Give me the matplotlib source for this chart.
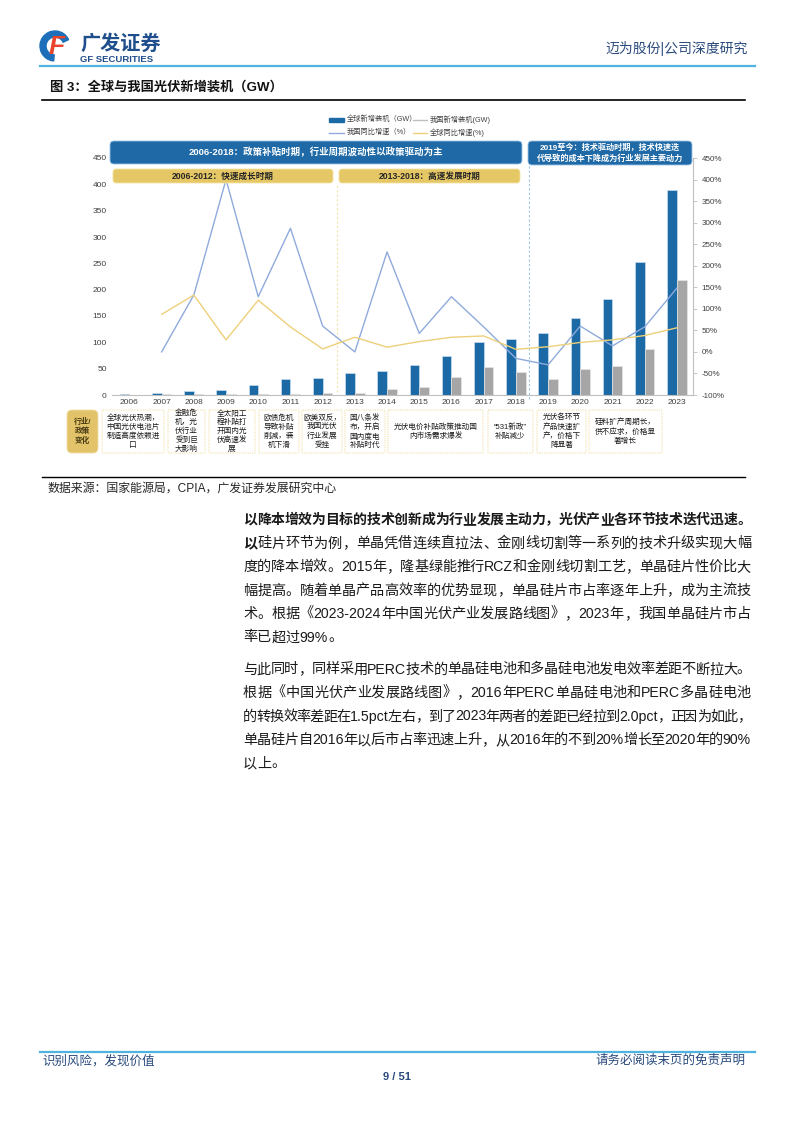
import re
import matplotlib
matplotlib.use('Agg')
import matplotlib.pyplot as plt
import numpy as np
from matplotlib.patches import FancyBboxPatch, Rectangle, Wedge
from matplotlib.ticker import FuncFormatter

plt.rcParams['font.family'] = ['Liberation Sans', 'Noto Sans CJK SC', 'DejaVu Sans']
plt.rcParams['axes.unicode_minus'] = False

# 数据
years = [str(y) for y in range(2006, 2024)]
global_gw = [2, 3, 7, 9, 19, 30, 32, 42, 46, 57, 75, 101, 107, 118, 146, 183, 252, 390]
china_gw = [0, 1, 1, 1, 1, 2.5, 3.5, 4.5, 11, 16, 35, 54, 44, 30, 49, 55, 87, 218]
china_yoy = [np.nan, 0, 132, 400, 128, 287, 60, 0, 232, 43, 128, 58, -15, -30, 60, 14, 58, 148]
global_yoy = [np.nan, 87, 132, 28, 120, 58, 7, 34, 11, 24, 34, 37, 6, 12, 22, 28, 38, 56]

events = [
    '全球光伏热潮，\n中国光伏电池片\n制造高度依赖进\n口',
    '金融危\n机，光\n伏行业\n受到巨\n大影响',
    '全太阳工\n程补贴打\n开国内光\n伏高速发\n展',
    '欧债危机\n导致补贴\n削减，装\n机下滑',
    '欧美双反，\n我国光伏\n行业发展\n受挫',
    '国八条发\n布，开启\n国内度电\n补贴时代',
    '光伏电价补贴政策推动国\n内市场需求爆发',
    '“531新政”\n补贴减少',
    '光伏各环节\n产品快速扩\n产，价格下\n降显著',
    '硅料扩产周期长，\n供不应求，价格显\n著增长',
]
event_x = [(102, 164), (168, 205), (209, 255), (259, 299), (302, 342),
           (345, 385), (388, 483), (488, 533), (537, 586), (589, 662)]

BLUE = '#1B6AA5'
GRAY = '#A6A6A6'
LBLUE = '#8FAADC'
YEL = '#EDD07A'
NAVY = '#2A4A7C'

W, H = 794, 1123
fig = plt.figure(figsize=(W / 100, H / 100), dpi=100)


def px(x0, y0, w, h):
    return [x0 / W, 1 - (y0 + h) / H, w / W, h / H]


# ---------------- 主图
ax = fig.add_axes(px(111.7, 158, 581.3, 237))
x = np.arange(len(years))
ax.bar(x - 0.15, global_gw, 0.3, color=BLUE, edgecolor='#C9DDF0', linewidth=0.5, zorder=2)
ax.bar(x + 0.15, china_gw, 0.3, color=GRAY, edgecolor='#E6E6E6', linewidth=0.5, zorder=2)
ax.set_xlim(-0.55, 17.5)
ax.set_ylim(0, 450)
ax.set_yticks(range(0, 451, 50))
ax.set_xticks(x)
ax.set_xticklabels(years)
ax.tick_params(axis='both', length=0, labelsize=6, colors='#404040')
ax.tick_params(axis='x', pad=3.2)
ax.tick_params(axis='y', pad=3.6)
for s in ['top', 'left', 'right']:
    ax.spines[s].set_visible(False)
ax.spines['bottom'].set_color('#BFBFBF')
ax.spines['bottom'].set_linewidth(0.8)

ax2 = ax.twinx()
ax2.plot(x, china_yoy, color=LBLUE, lw=1)
ax2.plot(x, global_yoy, color=YEL, lw=1)
ax2.set_ylim(-100, 450)
ax2.set_yticks(range(-100, 451, 50))
ax2.yaxis.set_major_formatter(FuncFormatter(lambda v, p: f'{v:.0f}%'))
ax2.tick_params(axis='y', length=3, width=0.6, color='#BFBFBF', labelsize=5.8,
                labelcolor='#404040', pad=3)
for s in ['top', 'left', 'bottom']:
    ax2.spines[s].set_visible(False)
ax2.spines['right'].set_color('#BFBFBF')
ax2.spines['right'].set_linewidth(0.8)

# 分期虚线
ax.axvline(6.45, ymin=3 / 237, ymax=(395 - 183) / 237, color='#F6E2A8', lw=0.8,
           ls=(0, (2, 2)), zorder=1)
ax.axvline(12.4, ymin=-4 / 237, ymax=(395 - 165) / 237, color='#9DC3E6', lw=0.8,
           ls=(0, (2, 2)), zorder=1, clip_on=False)

# ---------------- 覆盖层（像素坐标）
ov = fig.add_axes([0, 0, 1, 1])
ov.set_xlim(0, W)
ov.set_ylim(H, 0)
ov.axis('off')
ov.patch.set_visible(False)


def rbox(x0, y0, x1, y1, fc, ec, r=4, lw=0.6, ls='-'):
    ov.add_patch(FancyBboxPatch((x0, y0), x1 - x0, y1 - y0,
                                boxstyle=f'round,pad=0,rounding_size={r}',
                                fc=fc, ec=ec, lw=lw, ls=ls))


# 页眉
ov.add_patch(Wedge((55, 46), 15, 95, 335, width=6, color='#1C6FB8'))
ov.text(57, 47, 'F', fontsize=19, fontweight='bold', style='italic', color='#E8452C',
        ha='center', va='center')
ov.text(80, 44, '广发证券', fontsize=14.5, fontweight='bold', color='#1F4E8C',
        ha='left', va='center')
ov.text(80, 59, 'GF SECURITIES', fontsize=6.8, fontweight='bold', color='#1F4E8C',
        ha='left', va='center')
ov.text(748, 48, '迈为股份|公司深度研究', fontsize=10, color=NAVY, ha='right', va='center')
ov.plot([40, 755], [66, 66], color='#4FB3E0', lw=1.6)

ov.text(50, 87, '图 3：全球与我国光伏新增装机（GW）', fontsize=9.5, fontweight='bold',
        color='#111111', ha='left', va='center')
ov.plot([42, 745], [100, 100], color='black', lw=1.2)

# 图例
ov.add_patch(Rectangle((329, 117.5), 15, 4, color=BLUE))
ov.text(347, 119.5, '全球新增装机（GW）', fontsize=5.2, color='#404040', va='center')
ov.plot([413, 427], [119.5, 119.5], color='#BFBFBF', lw=1)
ov.text(430, 119.5, '我国新增装机(GW)', fontsize=5.2, color='#404040', va='center')
ov.plot([329, 344], [132.5, 132.5], color=LBLUE, lw=1)
ov.text(347, 132.5, '我国同比增速（%）', fontsize=5.2, color='#404040', va='center')
ov.plot([413, 427], [132.5, 132.5], color=YEL, lw=1)
ov.text(430, 132.5, '全球同比增速(%)', fontsize=5.2, color='#404040', va='center')

# 阶段横幅
rbox(110, 141, 522, 164, '#1F6AA6', '#9DC3E6')
ov.text(316, 152.5, '2006-2018：政策补贴时期，行业周期波动性以政策驱动为主', fontsize=6.8,
        fontweight='bold', color='white', ha='center', va='center')
rbox(528, 141, 692, 165, '#1F6AA6', '#9DC3E6')
ov.text(610, 147.5, '2019至今：技术驱动时期，技术快速迭', fontsize=5.9,
        fontweight='bold', color='white', ha='center', va='center')
ov.text(610, 158.5, '代导致的成本下降成为行业发展主要动力', fontsize=5.9,
        fontweight='bold', color='white', ha='center', va='center')
rbox(113, 169, 333, 183, '#E5C766', '#F5E3A8', r=3)
ov.text(223, 176, '2006-2012：快速成长时期', fontsize=6.2, fontweight='bold',
        color='#262626', ha='center', va='center')
rbox(339, 169, 520, 183, '#E5C766', '#F5E3A8', r=3)
ov.text(429.5, 176, '2013-2018：高速发展时期', fontsize=6.2, fontweight='bold',
        color='#262626', ha='center', va='center')

# 行业/政策变化
rbox(67, 410, 98, 453, '#E2C36A', '#F0DFA5', r=5)
ov.text(82.5, 431.5, '行业/\n政策\n变化', fontsize=5.5, fontweight='bold', color='#4A3C14',
        ha='center', va='center', linespacing=1.3)
for (x0, x1), txt in zip(event_x, events):
    rbox(x0, 410, x1, 453, 'white', '#F2DFA7', r=1, lw=0.8, ls=(0, (1, 1)))
    ov.text((x0 + x1) / 2, 431.5, txt, fontsize=5.5, color='#1A1A1A', ha='center',
            va='center', linespacing=1.3, multialignment='center')

# 数据来源
ov.plot([42, 745], [476.5, 476.5], color='black', lw=1)
ov.text(48, 488.5, '数据来源：国家能源局，CPIA，广发证券发展研究中心', fontsize=8.6,
        color='#262626', ha='left', va='center')

# 正文（两端对齐）
renderer = fig.canvas.get_renderer()


def justify(y, s, size, weight='normal', full=True, nbold=0, x0=243, x1=751):
    toks = re.findall(r'[A-Za-z0-9.%\-]+|.', s)
    ts, ws = [], []
    em = size / 72 * 100
    for i, t in enumerate(toks):
        w = 'bold' if (weight == 'bold' or i < nbold) else 'normal'
        tx = ov.text(x0, y, t, fontsize=size, fontweight=w, va='center', ha='left',
                     color='#1A1A1A')
        ts.append(tx)
        if t.isascii():
            ws.append(tx.get_window_extent(renderer).width)
        else:
            ws.append(em)
    gap = (x1 - x0 - sum(ws)) / (len(ts) - 1) if full else 0
    xp = x0
    for tx, w in zip(ts, ws):
        tx.set_x(xp)
        xp += w + gap


justify(520, '以降本增效为目标的技术创新成为行业发展主动力，光伏产业各环节技术迭代迅速。', 10, 'bold')
body1 = ['以硅片环节为例，单晶凭借连续直拉法、金刚线切割等一系列的技术升级实现大幅',
         '度的降本增效。2015年，隆基绿能推行RCZ和金刚线切割工艺，单晶硅片性价比大',
         '幅提高。随着单晶产品高效率的优势显现，单晶硅片市占率逐年上升，成为主流技',
         '术。根据《2023-2024年中国光伏产业发展路线图》，2023年，我国单晶硅片市占',
         '率已超过99%。']
body2 = ['与此同时，同样采用PERC技术的单晶硅电池和多晶硅电池发电效率差距不断拉大。',
         '根据《中国光伏产业发展路线图》，2016年PERC单晶硅电池和PERC多晶硅电池',
         '的转换效率差距在1.5pct左右，到了2023年两者的差距已经拉到2.0pct，正因为如此，',
         '单晶硅片自2016年以后市占率迅速上升，从2016年的不到20%增长至2020年的90%',
         '以上。']
for i, line in enumerate(body1):
    justify(543.5 + 23.5 * i, line, 10.2, full=(i < len(body1) - 1), nbold=1 if i == 0 else 0)
for i, line in enumerate(body2):
    justify(669.5 + 23.5 * i, line, 10.2, full=(i < len(body2) - 1))

# 页脚
ov.plot([40, 755], [1052, 1052], color='#4FB3E0', lw=1.6)
ov.text(42, 1061, '识别风险，发现价值', fontsize=9, color=NAVY, ha='left', va='center')
ov.text(745, 1061, '请务必阅读末页的免责声明', fontsize=9, color=NAVY, ha='right', va='center')
ov.text(397, 1077, '9 / 51', fontsize=8, fontweight='bold', color=NAVY, ha='center', va='center')

fig.savefig('out.png', dpi=100)
